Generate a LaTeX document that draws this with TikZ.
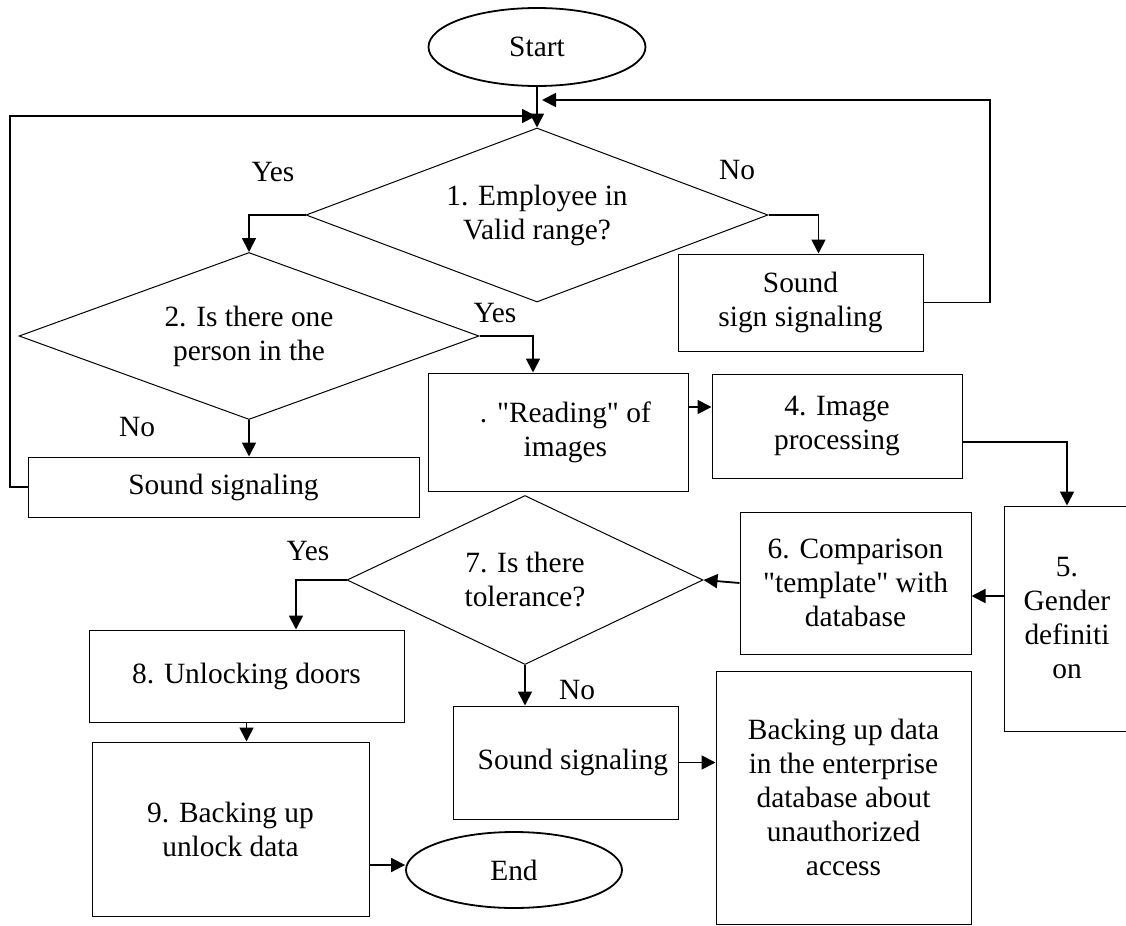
\documentclass[tikz,border=0pt]{standalone}
\usepackage{fontspec}
\setmainfont{Liberation Serif}[Ligatures=TeXOff]
\usetikzlibrary{shapes.geometric,arrows.meta}

\tikzset{
  box/.style={draw, line width=0.5pt, align=center, inner sep=0pt},
  decision/.style={draw, diamond, shape aspect=2.66, line width=0.5pt, align=center, inner sep=0pt},
  terminal/.style={draw, ellipse, line width=0.9pt, inner sep=0pt},
  arr/.style={line width=0.9pt, -{Triangle[length=7pt,width=7pt]}},
  lbl/.style={inner sep=0pt}
}

\begin{document}
\begin{tikzpicture}[x=0.5pt,y=-0.5pt,font=\fontsize{14.7pt}{17pt}\selectfont]
             \useasboundingbox (0,0) rectangle (1126,926);

             \node[terminal, minimum width=108.5pt, minimum height=39pt] (start) at (537,47) {Start};
             \node[decision, minimum width=231pt, minimum height=87pt] (valid) at (537,215) {1. Employee in\\Valid range?};
             \node[decision, minimum width=230pt, minimum height=83.5pt] (oneperson) at (249,336) {2. Is there one\\person in the};
             \node[box, minimum width=122.5pt, minimum height=48.5pt] (signA) at (800.5,302.5) {Sound\\sign signaling};
             \node[box, minimum width=195.5pt, minimum height=30pt] (soundA) at (223.5,487) {Sound signaling};
             \node[box, minimum width=130pt, minimum height=59pt] (reading) at (558,432) {\ \ . "Reading" of\\\ \ images};
             \node[box, minimum width=125pt, minimum height=52pt] (process) at (837,426) {4. Image\\processing};
             \node[box, minimum width=63pt, minimum height=112.5pt] (gender) at (1067,618.5) {5.\\Gender\\definiti\\on};
             \node[box, minimum width=115.5pt, minimum height=71pt] (compare) at (855.5,583) {6. Comparison\\"template" with\\database};
             \node[decision, minimum width=178pt, minimum height=84.5pt] (tolerance) at (525,580) {7. Is there\\tolerance?};
             \node[box, minimum width=157.5pt, minimum height=46pt] (unlock) at (246.5,676) {8. Unlocking doors};
             \node[box, minimum width=138.5pt, minimum height=87pt] (backupA) at (230.5,829) {9. Backing up\\unlock data};
             \node[box, minimum width=112.5pt, minimum height=56.5pt] (soundB) at (565.5,762.5) {\ \ Sound signaling};
             \node[box, minimum width=127.5pt, minimum height=126.5pt] (backupB) at (843.5,797.5) {Backing up data\\in the enterprise\\database about\\unauthorized\\access};
             \node[terminal, minimum width=108pt, minimum height=38pt] (stop) at (514,870) {End};

             \node[lbl] (yesA) at (273,172) {Yes};
             \node[lbl] (noA) at (737,170) {No};
             \node[lbl] (yesB) at (495,313) {Yes};
             \node[lbl] (noB) at (137,427) {No};
             \node[lbl] (yesC) at (308,551) {Yes};
             \node[lbl] (noC) at (577,690) {No};

             \coordinate (inL) at (536,116);
             \coordinate (inR) at (542,100);
             \coordinate (cornerL) at (10,116);
             \coordinate (cornerR) at (990,100);

             \draw[arr] (start.south) -- (valid.north);
             \draw[arr] (valid.west) -| (oneperson.north);
             \draw[arr] (valid.east) -| ([xshift=9pt]signA.north);
             \draw[arr] (signA.east) -| (cornerR) -- (inR);
             \draw[arr] (soundA.west) -| (cornerL) -- (inL);
             \draw[arr] (oneperson.south) -- (oneperson.south |- soundA.north);
             \draw[arr] (oneperson.east) -| ([xshift=-12.5pt]reading.north);
             \draw[arr] ([yshift=12.5pt]reading.east) -- ([yshift=12.5pt]reading.east -| process.west);
             \draw[arr] ([yshift=-8pt]process.east) -| (gender.north);
             \draw[arr] ([yshift=11.25pt]gender.west) -- ([yshift=11.25pt]gender.west -| compare.east);
             \draw[arr] (compare.west) -- (tolerance.east);
             \draw[arr] (tolerance.west) -| ([xshift=24.75pt]unlock.north);
             \draw[arr] (tolerance.south) -- (tolerance.south |- soundB.north);
             \draw[arr] (soundB.east) -- (soundB.east -| backupB.west);
             \draw[arr] (unlock.south) -- (unlock.south |- backupA.north);
             \draw[arr] ([yshift=-18pt]backupA.east) -- ([yshift=-18pt]backupA.east -| stop.west);
\end{tikzpicture}
\end{document}
